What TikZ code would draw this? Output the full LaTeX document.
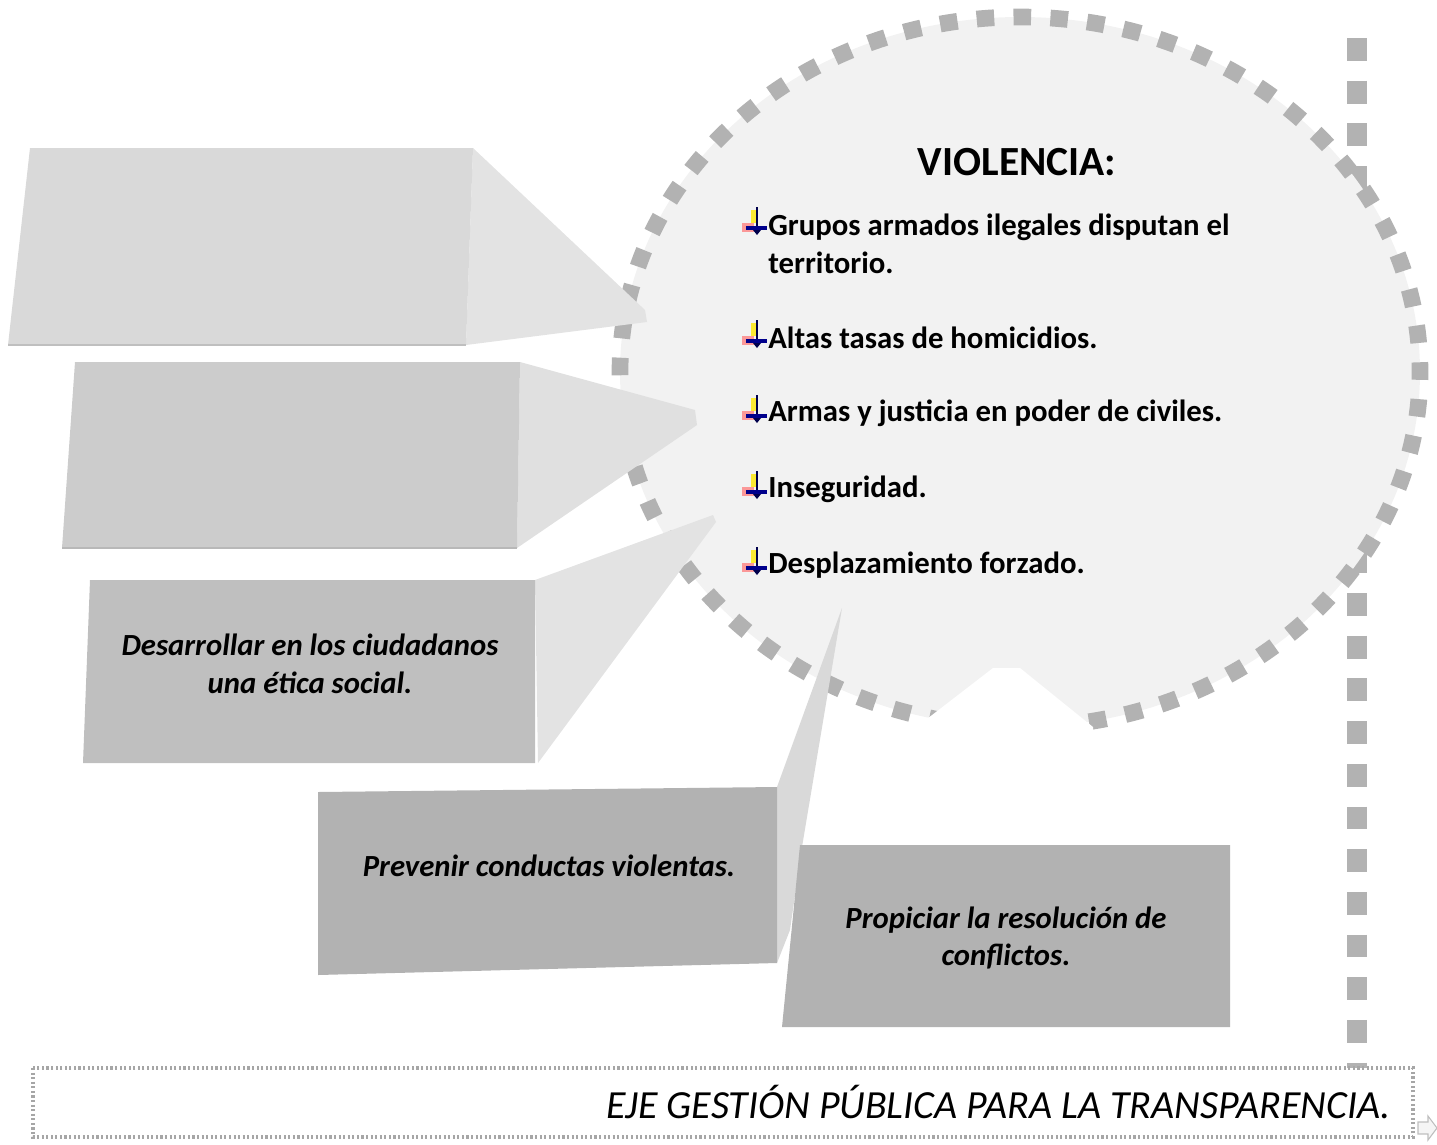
\documentclass[tikz,border=0pt]{standalone}
\usepackage{fontspec}
\setmainfont{Carlito}
\usetikzlibrary{calc}
\newcommand{\letra}{\fontsize{17.5}{21.5}\selectfont}
\tikzset{
	caja/.style={font=\letra\bfseries\itshape, align=center, inner sep=0pt},
	item/.style={font=\letra\bfseries, anchor=west, align=left, inner sep=0pt},
	titulo/.style={font=\fontsize{23.6}{28}\selectfont\bfseries, inner sep=0pt}
}
\def\vineta(#1,#2){
	\begin{scope}[shift={(#1,#2)}]
		\fill[yellow!90!orange, opacity=0.8] (-6,-15) rectangle (-1,-2);
		\fill[red!55, opacity=0.7] (-15,-2) rectangle (-3,7);
		\draw[blue!30!black, line width=1.1pt] (0,-18) -- (0,6);
		\draw[blue!55!black, line width=1.8pt] (-11,3) -- (10,3);
		\fill[blue!30!black] (-4,5) -- (4,5) -- (0,10) -- cycle;
	\end{scope}
}

\begin{document}
\begin{tikzpicture}[x=0.02cm, y=-0.02cm]
			%%%%% START %%%%%
			\useasboundingbox (0,0) rectangle (1437,1144);
			
			\draw[line width=11.3pt, color=black!30, dash pattern=on 13pt off 11.3pt] (1357,38) -- (1357,1068);
			
			\fill[color=black!5] (1020,372) ellipse [x radius=400, y radius=355];
			\draw[line width=9.5pt, color=black!30, dash pattern=on 10pt off 11pt] (1020,727) arc [start angle=90, end angle=450, x radius=400, y radius=355];
			\fill[white] (923,722) -- (993,668) -- (1020,668) -- (1093,727) -- (1093,745) -- (923,745) -- cycle;
			
			\fill[color=black!11] (473,148) -- (645,310) -- (647,322) -- (466,345) -- cycle;
			\fill[color=black!15] (30,148) -- (473,148) -- (466,345) -- (8,345) -- cycle;
			\draw[line width=1.5pt, color=black!25] (8,345) -- (466,345);
			
			\fill[color=black!12] (520,362) -- (695,410) -- (697,425) -- (517,548) -- cycle;
			\fill[color=black!20] (75,362) -- (520,362) -- (517,548) -- (62,548) -- cycle;
			\draw[line width=1.5pt, color=black!28] (62,548) -- (517,548);
			
			\fill[color=black!11] (535,580) -- (713,515) -- (716,522) -- (538,763) -- cycle;
			\fill[color=black!25] (90,580) -- (535,580) -- (535,763) -- (83,763) -- cycle;
			
			\fill[color=black!15] (777,787) -- (842,608) -- (802,847) -- (790,930) -- (777,963) -- cycle;
			\fill[color=black!30] (318,792) -- (777,787) -- (777,963) -- (318,975) -- cycle;
			
			\fill[color=black!30] (800,845) -- (1230,845) -- (1230,1027) -- (782,1027) -- cycle;
			
			\node[titulo] (violencia) at (1017,162) {VIOLENCIA:};
			\vineta(757,225)
			\node[item] (grupos) at (768,244) {Grupos armados ilegales disputan el\\territorio.};
			\vineta(757,338)
			\node[item] (homicidios) at (768,338) {Altas tasas de homicidios.};
			\vineta(757,413)
			\node[item] (armas) at (768,413) {Armas y justicia en poder de civiles.};
			\vineta(757,489)
			\node[item] (inseguridad) at (768,489) {Inseguridad.};
			\vineta(757,565)
			\node[item] (desplazamiento) at (768,565) {Desplazamiento forzado.};
			
			\node[caja] (etica) at (310,664) {Desarrollar en los ciudadanos\\una ética social.};
			\node[caja] (prevenir) at (549,866) {Prevenir conductas violentas.};
			\node[caja] (propiciar) at (1006,938) {Propiciar la resolución de\\conflictos.};
			
			\draw[line width=2pt, color=black!35, dash pattern=on 1.2pt off 1.4pt] (33,1068) rectangle (1413,1137);
			\node[font=\fontsize{22.7}{26}\selectfont\itshape, anchor=east, inner sep=0pt] (eje) at (1391,1102) {EJE GESTIÓN PÚBLICA PARA LA TRANSPARENCIA.};
			\draw[line width=0.6pt, color=black!25, fill=black!4] (1418,1122) -- (1428,1122) -- (1428,1116) -- (1437,1128) -- (1428,1140) -- (1428,1134) -- (1418,1134) -- cycle;
			
			%%%%% END %%%%%
\end{tikzpicture}
\end{document}
